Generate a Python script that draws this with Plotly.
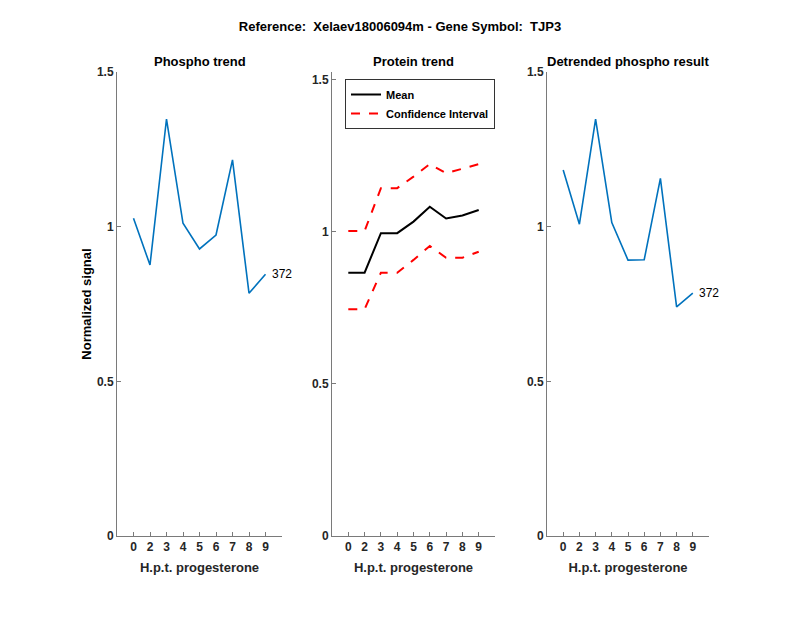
import plotly.graph_objects as go

# Data
time_labels = ["0", "2", "3", "4", "5", "6", "7", "8", "9"]
positions = [1, 2, 3, 4, 5, 6, 7, 8, 9]
phospho = [1.027, 0.876, 1.348, 1.011, 0.928, 0.973, 1.216, 0.785, 0.846]
protein_mean = [0.866, 0.866, 0.996, 0.996, 1.034, 1.083, 1.044, 1.054, 1.072]
protein_upper = [1.003, 1.003, 1.144, 1.144, 1.182, 1.223, 1.193, 1.209, 1.223]
protein_lower = [0.746, 0.746, 0.866, 0.866, 0.908, 0.954, 0.915, 0.915, 0.935]
detrended = [1.183, 1.008, 1.348, 1.013, 0.892, 0.893, 1.156, 0.741, 0.785]
peptide_label = "372"
y_ticks = [0, 0.5, 1, 1.5]
y_tick_text = ["0", "0.5", "1", "1.5"]

FONT = "Liberation Sans, Arial, Helvetica, sans-serif"
BLUE = "#0072BD"
AXC = "#7a7a7a"
TXT = "#262626"

# page body has an 8px margin; figure is placed at (8, 8)
OFF = 8
W, H = 800 - OFF, 618 - OFF


def px(xp):
    return (xp - OFF) / W


def py(yp):
    return 1 - (yp - OFF) / H


fig = go.Figure()

fig.add_trace(go.Scatter(x=positions, y=phospho, mode="lines",
                         line=dict(color=BLUE, width=1.6), showlegend=False,
                         xaxis="x", yaxis="y"))
fig.add_trace(go.Scatter(x=positions, y=protein_mean, mode="lines", name="<b>Mean</b>",
                         line=dict(color="black", width=2), xaxis="x2", yaxis="y2"))
fig.add_trace(go.Scatter(x=positions, y=protein_upper, mode="lines", name="<b>Confidence Interval</b>",
                         line=dict(color="red", width=2, dash="dash"), xaxis="x2", yaxis="y2",
                         legendgroup="ci"))
fig.add_trace(go.Scatter(x=positions, y=protein_lower, mode="lines", name="Confidence Interval",
                         line=dict(color="red", width=2, dash="dash"), xaxis="x2", yaxis="y2",
                         legendgroup="ci", showlegend=False))
fig.add_trace(go.Scatter(x=positions, y=detrended, mode="lines",
                         line=dict(color=BLUE, width=1.6), showlegend=False,
                         xaxis="x3", yaxis="y3"))

ydom = [py(536), py(72)]
xdoms = [[px(117), px(282)], [px(332), px(495)], [px(547), px(709)]]
yranges = [[0, 1.5], [0, 1.526], [0, 1.5]]

common_x = dict(range=[0, 10], tickvals=positions, ticktext=["<b>%s</b>" % t for t in time_labels],
                showline=True, linecolor=AXC, linewidth=1, ticks="inside",
                ticklen=4, tickcolor=AXC, showgrid=False, zeroline=False, automargin=False,
                tickfont=dict(family=FONT, size=12, color=TXT),
                title=dict(text="<b>H.p.t. progesterone</b>", standoff=9,
                           font=dict(family=FONT, size=13, color=TXT)))
common_y = dict(tickvals=y_ticks, ticktext=["<b>%s</b>" % t for t in y_tick_text],
                showline=True, linecolor=AXC, linewidth=1, ticks="inside",
                ticklen=4, tickcolor=AXC, showgrid=False, zeroline=False, automargin=False,
                tickfont=dict(family=FONT, size=12, color=TXT))

layout = dict(
    width=W, height=H,
    paper_bgcolor="white", plot_bgcolor="white",
    margin=dict(l=0, r=0, t=0, b=0),
    font=dict(family=FONT, color=TXT),
    title=dict(text="<b>Reference:  Xelaev18006094m - Gene Symbol:  TJP3</b>",
               x=0.5 - OFF / 2 / W, xanchor="center", y=py(26), yanchor="middle",
               font=dict(family=FONT, size=13, color="black")),
    legend=dict(x=px(345), y=py(79), xanchor="left", yanchor="top",
                bgcolor="white", bordercolor="#333", borderwidth=1,
                font=dict(family=FONT, size=11, color="black"),
                tracegroupgap=0, itemwidth=30),
)
for i in range(3):
    sx = "" if i == 0 else str(i + 1)
    xa = dict(common_x, domain=xdoms[i], anchor="y" + sx)
    ya = dict(common_y, domain=ydom, range=yranges[i], anchor="x" + sx)
    layout["xaxis" + sx] = xa
    layout["yaxis" + sx] = ya
layout["yaxis"]["title"] = dict(text="<b>Normalized signal</b>", standoff=2,
                                font=dict(family=FONT, size=13, color="black"))
fig.update_layout(**layout)

titles = ["Phospho trend", "Protein trend", "Detrended phospho result"]
for i, t in enumerate(titles):
    fig.add_annotation(text="<b>" + t + "</b>", xref="paper", yref="paper",
                       x=(xdoms[i][0] + xdoms[i][1]) / 2, y=py(61),
                       xanchor="center", yanchor="middle", showarrow=False,
                       font=dict(family=FONT, size=13, color="black"))

fig.add_annotation(text=peptide_label, x=positions[-1], y=phospho[-1], xref="x", yref="y",
                   xanchor="left", yanchor="middle", xshift=4, showarrow=False,
                   font=dict(family=FONT, size=12, color="black"))
fig.add_annotation(text=peptide_label, x=positions[-1], y=detrended[-1], xref="x3", yref="y3",
                   xanchor="left", yanchor="middle", xshift=4, showarrow=False,
                   font=dict(family=FONT, size=12, color="black"))

fig.write_html("out.html")
